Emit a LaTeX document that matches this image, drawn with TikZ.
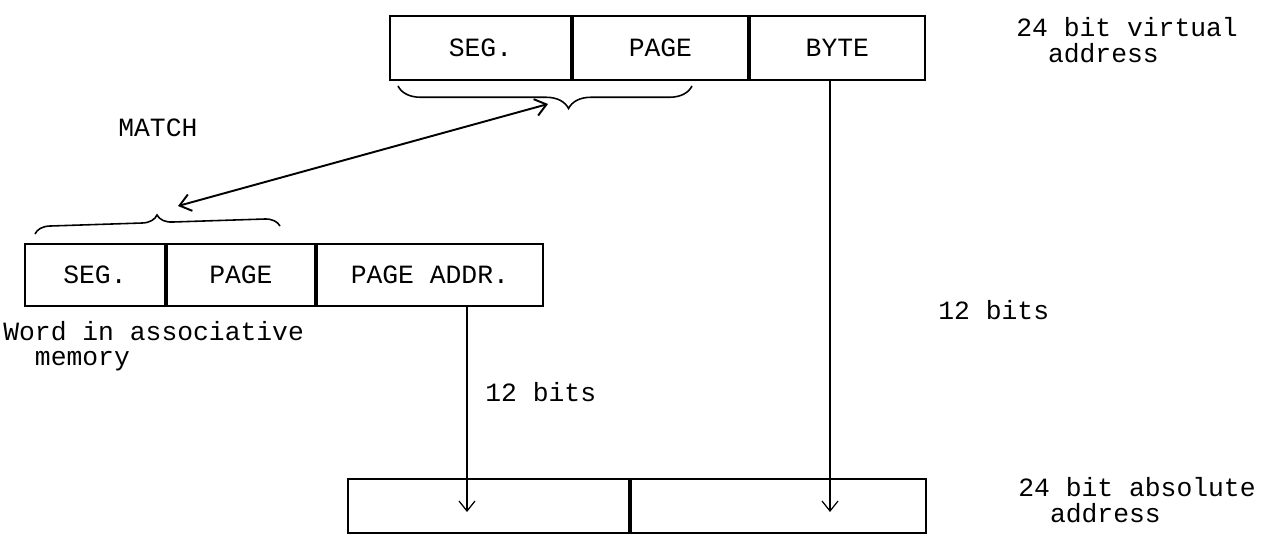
\documentclass[tikz,border=0pt]{standalone}
\usepackage{fontspec}
\setmonofont{Liberation Mono}
\usetikzlibrary{arrows.meta, positioning, decorations.pathreplacing}

\begin{document}
\begin{tikzpicture}[x=0.2mm, y=-0.2mm,
    font=\fontsize{15}{14.5}\selectfont\ttfamily,
    cell/.style={draw, line width=1.1pt, anchor=north west, inner sep=0pt},
    vcell/.style={cell, minimum height=12.8mm},
    wcell/.style={cell, minimum height=12.4mm},
    acell/.style={cell, minimum height=10.8mm},
    note/.style={anchor=west, align=left, inner sep=0pt},
    brc/.style={decorate, line width=0.9pt},
    feed/.style={line width=0.7pt, -{Straight Barb[length=2mm, width=3.2mm]}}
  ]
    \useasboundingbox (0,0) rectangle (1262,540);
    \node[vcell, minimum width=36.2mm] (vseg) at (389,15) {SEG.};
    \node[vcell, minimum width=35mm, right=0pt of vseg] (vpage) {PAGE};
    \node[vcell, minimum width=35mm, right=0pt of vpage] (vbyte) {BYTE};
    \node[wcell, minimum width=28mm] (wseg) at (24,243) {SEG.};
    \node[wcell, minimum width=29.6mm, right=0pt of wseg] (wpage) {PAGE};
    \node[wcell, minimum width=45.2mm, right=0pt of wpage] (waddr) {PAGE ADDR.};
    \node[acell, minimum width=56.2mm] (ahigh) at (347,478) {};
    \node[acell, minimum width=59mm, right=0pt of ahigh] (alow) {};
    \node[note] (virt) at (1016,40) {24 bit virtual\\\hspace*{1.2em}address};
    \node[note] (absl) at (1018,500) {24 bit absolute\\\hspace*{1.2em}address};
    \node[note] (bitsr) at (938,310) {12 bits};
    \node[note] (bitsl) at (485,392) {12 bits};
    \node[note] (match) at (118,128) {MATCH};
    \node[note] (word) at (3,346) {Word in associative\\\hspace*{1.2em}memory};
    \coordinate (vl) at (398,86);
    \coordinate (vr) at (692,86);
    \coordinate (wl) at (35,234);
    \coordinate (wr) at (280,226);
    \draw[brc, decoration={brace, mirror, amplitude=4.5mm, aspect=0.58}] (vl) -- (vr);
    \draw[brc, decoration={brace, amplitude=3mm, aspect=0.5}] (wl) -- (wr);
    \coordinate (mtop) at (548,104);
    \coordinate (mbot) at (178,206);
    \draw[line width=1.1pt, {Straight Barb[length=2.2mm, width=3.4mm]}-{Straight Barb[length=2.2mm, width=3.4mm]}] (mtop) -- (mbot);
    \coordinate (byteend) at (830,512);
    \coordinate (addrend) at (467,512);
    \draw[feed] (byteend |- vbyte.south) -- (byteend);
    \draw[feed] (addrend |- waddr.south) -- (addrend);
  \end{tikzpicture}
\end{document}
